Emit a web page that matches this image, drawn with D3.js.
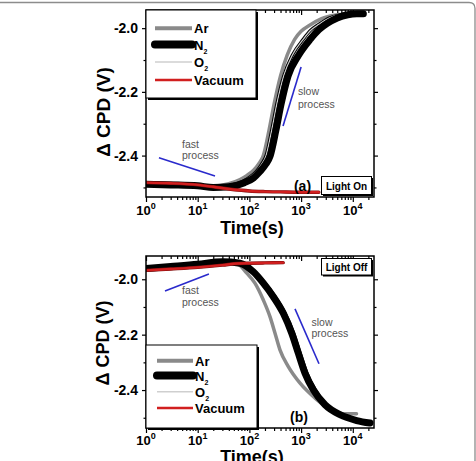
<!DOCTYPE html>
<html>
<head>
<meta charset="utf-8">
<script src="https://cdn.jsdelivr.net/npm/d3@7"></script>
<style>
  body { margin: 0; background: #fff; }
  svg { display: block; font-family: Arial, "Liberation Sans", sans-serif; }
</style>
</head>
<body>
<svg id="chart" width="476" height="461"></svg>
<script>
// ---- data ----
// panel (a): light on
const AR_A_T = [1, 3, 10, 20, 40, 66, 90, 119, 150, 186, 240, 299, 400, 540, 750, 1000, 1490, 2500, 5000, 10000, 16000];
const AR_A_V = [-2.485, -2.488, -2.492, -2.496, -2.488, -2.475, -2.462, -2.447, -2.427, -2.40, -2.32, -2.24, -2.15, -2.084, -2.035, -2.01, -1.99, -1.97, -1.958, -1.953, -1.952];
const O2_A_T = [1, 3, 10, 20, 40, 72, 100, 135, 170, 210, 270, 337, 460, 680, 1100, 1500, 2200, 3500, 6000, 11000, 16000];
const O2_A_V = [-2.487, -2.49, -2.494, -2.498, -2.494, -2.482, -2.468, -2.45, -2.428, -2.40, -2.32, -2.24, -2.15, -2.084, -2.035, -2.008, -1.988, -1.968, -1.957, -1.953, -1.952];
const N2_A_T = [1, 3, 10, 20, 40, 80, 120, 160, 205, 253, 326, 408, 560, 900, 1500, 2200, 3200, 5000, 8000, 12000, 16000];
const N2_A_V = [-2.49, -2.492, -2.495, -2.5, -2.498, -2.485, -2.47, -2.45, -2.428, -2.40, -2.32, -2.24, -2.15, -2.084, -2.035, -2.005, -1.985, -1.968, -1.958, -1.955, -1.955];
const VAC_A_T = [1, 3, 10, 20, 40, 70, 100, 200, 400, 1000, 2200];
const VAC_A_V = [-2.485, -2.487, -2.492, -2.498, -2.505, -2.509, -2.511, -2.513, -2.514, -2.515, -2.515];

// panel (b): light off
const AR_B_T = [1, 3, 10, 30, 57, 89, 128, 186, 250, 313, 390, 566, 955, 1860, 3650, 4900, 8000, 11800];
const AR_B_V = [-1.96, -1.953, -1.945, -1.937, -1.942, -1.978, -2.014, -2.075, -2.135, -2.195, -2.255, -2.315, -2.375, -2.429, -2.471, -2.485, -2.486, -2.486];
const O2_B_T = [1, 3, 10, 30, 70, 125, 200, 315, 490, 720, 960, 1300, 1880, 3100, 6000, 12000, 21000];
const O2_B_V = [-1.962, -1.955, -1.947, -1.938, -1.94, -1.973, -2.014, -2.063, -2.123, -2.195, -2.267, -2.339, -2.399, -2.453, -2.489, -2.51, -2.518];
const N2_B_T = [1, 3, 10, 30, 66, 119, 186, 290, 453, 660, 884, 1190, 1720, 2900, 5650, 11900, 21500];
const N2_B_V = [-1.961, -1.954, -1.946, -1.937, -1.942, -1.973, -2.014, -2.063, -2.123, -2.195, -2.267, -2.339, -2.399, -2.453, -2.489, -2.51, -2.519];
const VAC_B_T = [1, 3, 10, 30, 60, 100, 200, 450];
const VAC_B_V = [-1.968, -1.963, -1.957, -1.949, -1.943, -1.942, -1.941, -1.94];

// blue guide lines: [t0, v0, t1, v1]
const FAST_A = [1.78, -2.407, 21.6, -2.464];
const SLOW_A = [447, -2.307, 1000, -2.122];
const FAST_B = [2.33, -2.042, 16.5, -1.981];
const SLOW_B = [762, -2.107, 2220, -2.305];

const X_MAJOR = [1, 10, 100, 1000, 10000];
const Y_MAJOR = [-2.0, -2.2, -2.4];
const Y_MINOR = [-2.1, -2.3, -2.5];
const SERIES_NAMES = ["Ar", "N2", "O2", "Vacuum"];

const COLORS = { Ar: "#8a8a8a", N2: "#000", O2: "#cfcfcf", Vacuum: "#d11f1f", blue: "#2a2acc", note: "#555" };

const svg = d3.select("#chart");
const x = d3.scaleLog().domain([1, Math.pow(10, 4.41)]).range([146, 374]);
const xMinor = x.ticks().filter((t) => !X_MAJOR.includes(t));

// outer figure border
svg.append("path")
  .attr("d", "M-2,2.5 H469 Q475,2.5 475,8.5 V465")
  .attr("fill", "none").attr("stroke", "#8c8c8c").attr("stroke-width", 1.3);

const panels = [
  {
    top: 10, bottom: 197, yDomain: [-2.53, -1.943],
    data: { Ar: [AR_A_T, AR_A_V], O2: [O2_A_T, O2_A_V], N2: [N2_A_T, N2_A_V], Vacuum: [VAC_A_T, VAC_A_V] },
    legend: { top: 10, bottom: 98, right: 256, rows: [28.3, 44.5, 62, 80], x0: 155, x1: 192 },
    tag: "Light On", tagBox: [321.5, 176.5, 50, 18], tagY: 190,
    letter: "(a)", letterX: 302.5, letterY: 191,
    fast: FAST_A, slow: SLOW_A, fastText: [182, 148, 159], slowText: [298, 95, 107.5],
    tickY: 17.5, xTitleY: 234, yTitleY: 112, yTitleSize: 19, xTitleSize: 18
  },
  {
    top: 256, bottom: 428, yDomain: [-2.537, -1.916],
    data: { Ar: [AR_B_T, AR_B_V], O2: [O2_B_T, O2_B_V], N2: [N2_B_T, N2_B_V], Vacuum: [VAC_B_T, VAC_B_V] },
    legend: { top: 345, bottom: 428, right: 257, rows: [360.7, 375.5, 391.7, 408], x0: 157, x1: 193 },
    tag: "Light Off", tagBox: [321.5, 258.5, 50, 16.5], tagY: 271,
    letter: "(b)", letterX: 299, letterY: 422,
    fast: FAST_B, slow: SLOW_B, fastText: [182, 294, 305.5], slowText: [311.5, 326, 337],
    tickY: 16.5, xTitleY: 463, yTitleY: 343, yTitleSize: 18, xTitleSize: 18
  }
];

panels.forEach(drawPanel);

function drawPanel(p) {
  const y = d3.scaleLinear().domain(p.yDomain).range([p.bottom, p.top]);
  const g = svg.append("g");
  const clipId = "clip" + p.top;
  svg.append("clipPath").attr("id", clipId)
    .append("rect").attr("x", x.range()[0]).attr("y", p.top)
    .attr("width", x.range()[1] - x.range()[0]).attr("height", p.bottom - p.top);

  // series
  const line = d3.line().x((d) => x(d[0])).y((d) => y(d[1])).curve(d3.curveMonotoneX);
  const pts = (name) => p.data[name][0].map((t, i) => [t, p.data[name][1][i]]);
  const plot = g.append("g").attr("clip-path", `url(#${clipId})`);
  const strokes = [
    ["Ar", COLORS.Ar, 3.5],
    ["O2", "#000", 3.2],
    ["O2", COLORS.O2, 1.2],
    ["N2", "#000", 7],
    ["Vacuum", "#7a0d0d", 3.4],
    ["Vacuum", COLORS.Vacuum, 2.4]
  ];
  strokes.forEach(([name, color, w]) => {
    plot.append("path").datum(pts(name))
      .attr("d", line).attr("fill", "none")
      .attr("stroke", color).attr("stroke-width", w)
      .attr("stroke-linejoin", "round").attr("stroke-linecap", "round");
  });

  // guide arrows
  [p.fast, p.slow].forEach((a) => {
    g.append("line")
      .attr("x1", x(a[0])).attr("y1", y(a[1]))
      .attr("x2", x(a[2])).attr("y2", y(a[3]))
      .attr("stroke", COLORS.blue).attr("stroke-width", 1.6);
  });
  const note = (tx, ty, s) => g.append("text").attr("x", tx).attr("y", ty)
    .attr("font-size", 10.5).attr("fill", COLORS.note).text(s);
  note(p.fastText[0], p.fastText[1], "fast");
  note(p.fastText[0], p.fastText[2], "process");
  note(p.slowText[0], p.slowText[1], "slow");
  note(p.slowText[0], p.slowText[2], "process");

  // axes
  g.append("g").attr("transform", `translate(0,${p.bottom})`)
    .call(d3.axisBottom(x).tickValues(X_MAJOR).tickSize(5).tickFormat(""));
  g.append("g").attr("transform", `translate(0,${p.bottom})`)
    .call(d3.axisBottom(x).tickValues(xMinor).tickSize(3).tickFormat(""));
  g.append("g").attr("transform", `translate(0,${p.top})`)
    .call(d3.axisBottom(x).tickValues(X_MAJOR).tickSize(5).tickFormat(""));
  g.append("g").attr("transform", `translate(0,${p.top})`)
    .call(d3.axisBottom(x).tickValues(xMinor).tickSize(3).tickFormat(""));
  g.append("g").attr("transform", `translate(${x.range()[0]},0)`)
    .call(d3.axisLeft(y).tickValues(Y_MAJOR).tickSize(4).tickPadding(4).tickFormat((d) => d.toFixed(1)));
  g.append("g").attr("transform", `translate(${x.range()[0]},0)`)
    .call(d3.axisLeft(y).tickValues(Y_MINOR).tickSize(2.5).tickFormat(""));
  g.append("g").attr("transform", `translate(${x.range()[1]},0)`)
    .call(d3.axisLeft(y).tickValues(Y_MAJOR).tickSize(-4).tickFormat(""));
  g.append("g").attr("transform", `translate(${x.range()[1]},0)`)
    .call(d3.axisLeft(y).tickValues(Y_MINOR).tickSize(-2.5).tickFormat(""));
  g.selectAll(".domain").remove();
  g.selectAll(".tick line").attr("stroke", "#000").attr("stroke-width", 1.2);
  g.selectAll(".tick text").attr("font-size", 14).attr("font-weight", "bold")
    .attr("fill", "#000").attr("font-family", "Arial, 'Liberation Sans', sans-serif");

  // x tick labels 10^n
  X_MAJOR.forEach((t) => {
    const tx = g.append("text").attr("x", x(t)).attr("y", p.bottom + p.tickY)
      .attr("text-anchor", "middle").attr("font-weight", "bold").attr("font-size", 13);
    tx.append("tspan").text("10");
    tx.append("tspan").attr("font-size", 9).attr("dy", -6).text(Math.round(Math.log10(t)));
  });

  // frame
  g.append("rect").attr("x", x.range()[0]).attr("y", p.top)
    .attr("width", x.range()[1] - x.range()[0]).attr("height", p.bottom - p.top)
    .attr("fill", "none").attr("stroke", "#000").attr("stroke-width", 1.5);

  // legend with Origin-style shadow
  const L = p.legend;
  g.append("rect").attr("x", x.range()[0] + 2).attr("y", L.top + 2)
    .attr("width", L.right - x.range()[0]).attr("height", L.bottom - L.top).attr("fill", "#000");
  g.append("rect").attr("x", x.range()[0]).attr("y", L.top)
    .attr("width", L.right - x.range()[0]).attr("height", L.bottom - L.top)
    .attr("fill", "#fff").attr("stroke", "#000").attr("stroke-width", 1);
  const legendStroke = { Ar: [COLORS.Ar, 4], N2: ["#000", 8], O2: [COLORS.O2, 1.5], Vacuum: [COLORS.Vacuum, 2.5] };
  SERIES_NAMES.forEach((name, i) => {
    const ry = L.rows[i];
    g.append("line").attr("x1", L.x0).attr("x2", L.x1).attr("y1", ry).attr("y2", ry)
      .attr("stroke", legendStroke[name][0]).attr("stroke-width", legendStroke[name][1])
      .attr("stroke-linecap", name === "N2" ? "round" : "butt");
    const lt = g.append("text").attr("x", L.x1 + 2).attr("y", ry + 5)
      .attr("font-size", 13).attr("font-weight", "bold");
    if (name === "N2" || name === "O2") {
      lt.append("tspan").text(name[0]);
      lt.append("tspan").attr("font-size", 7).attr("dy", 4).text("2");
    } else {
      lt.text(name);
    }
  });

  // light on/off tag
  const b = p.tagBox;
  g.append("rect").attr("x", b[0] + 1.5).attr("y", b[1] + 1.5).attr("width", b[2]).attr("height", b[3]).attr("fill", "#000");
  g.append("rect").attr("x", b[0]).attr("y", b[1]).attr("width", b[2]).attr("height", b[3])
    .attr("fill", "#fff").attr("stroke", "#000").attr("stroke-width", 1);
  g.append("text").attr("x", b[0] + b[2] / 2).attr("y", p.tagY).attr("text-anchor", "middle")
    .attr("font-size", 10).attr("font-weight", "bold").text(p.tag);
  g.append("text").attr("x", p.letterX).attr("y", p.letterY).attr("text-anchor", "middle")
    .attr("font-size", 14).attr("font-weight", "bold").text(p.letter);

  // axis titles
  g.append("text").attr("x", 252).attr("y", p.xTitleY).attr("text-anchor", "middle")
    .attr("font-size", p.xTitleSize).attr("font-weight", "bold").text("Time(s)");
  g.append("text").attr("transform", `translate(103,${p.yTitleY}) rotate(-90)`)
    .attr("dy", "0.35em").attr("text-anchor", "middle")
    .attr("font-size", p.yTitleSize).attr("font-weight", "bold").text("Δ CPD (V)");
}
</script>
</body>
</html>
